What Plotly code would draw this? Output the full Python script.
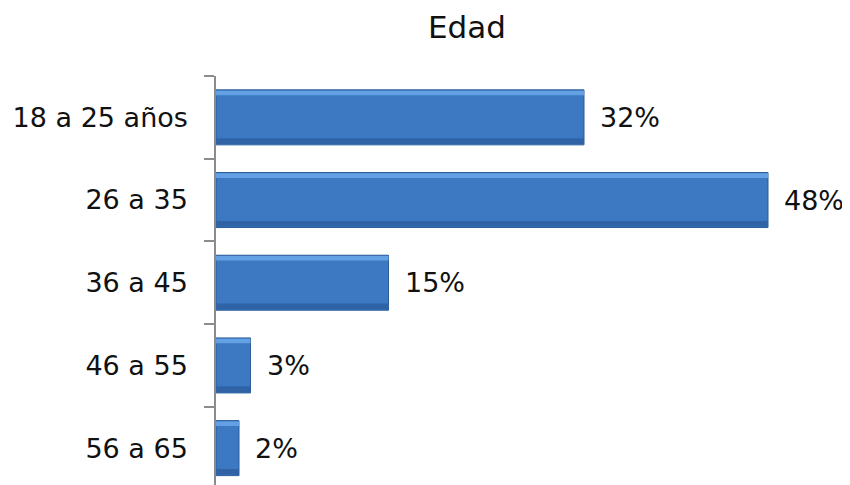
import plotly.graph_objects as go

# Datos
categorias = ["18 a 25 años", "26 a 35", "36 a 45", "46 a 55", "56 a 65"]
porcentajes = [32, 48, 15, 3, 2]
etiquetas = ["32%", "48%", "15%", "3%", "2%"]

fuente = "DejaVu Sans, Verdana, sans-serif"
ancho = 0.665

fig = go.Figure()

# barra principal
fig.add_trace(go.Bar(
    x=porcentajes, y=categorias, orientation="h", width=ancho,
    marker=dict(color="#3C79C2", line=dict(color="#2C5C98", width=1)),
    hoverinfo="skip", showlegend=False,
))
# brillo superior (bisel)
fig.add_trace(go.Bar(
    x=porcentajes, y=categorias, orientation="h", width=0.055, offset=-ancho / 2 + 0.01,
    marker=dict(color="#64A0E4", line=dict(width=0)),
    hoverinfo="skip", showlegend=False,
))
# sombra inferior (bisel)
fig.add_trace(go.Bar(
    x=porcentajes, y=categorias, orientation="h", width=0.07, offset=ancho / 2 - 0.08,
    marker=dict(color="#2F63A6", line=dict(width=0)),
    hoverinfo="skip", showlegend=False,
))

for cat, val, txt in zip(categorias, porcentajes, etiquetas):
    fig.add_annotation(
        x=val, y=cat, text=txt, showarrow=False,
        xanchor="left", xshift=14,
        font=dict(family=fuente, size=27, color="#111111"),
    )

# el body de la página añade 8 px de margen
fig.update_layout(
    width=842, height=477,
    barmode="overlay",
    paper_bgcolor="white", plot_bgcolor="white",
    margin=dict(l=208, r=59, t=68, b=0),
    title=dict(text="Edad", x=(467 - 8) / 842, xanchor="center",
               y=1 - 19 / 477, yanchor="middle",
               font=dict(family=fuente, size=31, color="#111111")),
    xaxis=dict(range=[0, 50], visible=False),
    yaxis=dict(
        type="category", categoryorder="array", categoryarray=categorias,
        range=[4.446, -0.5], tickson="boundaries",
        showline=True, linecolor="#8C8C8C", linewidth=1.5,
        ticks="outside", ticklen=10, tickcolor="#8C8C8C", tickwidth=1.5,
        ticklabelstandoff=21, showgrid=False, zeroline=False,
        tickfont=dict(family=fuente, size=27, color="#111111"),
    ),
)

fig.write_html("out.html")
